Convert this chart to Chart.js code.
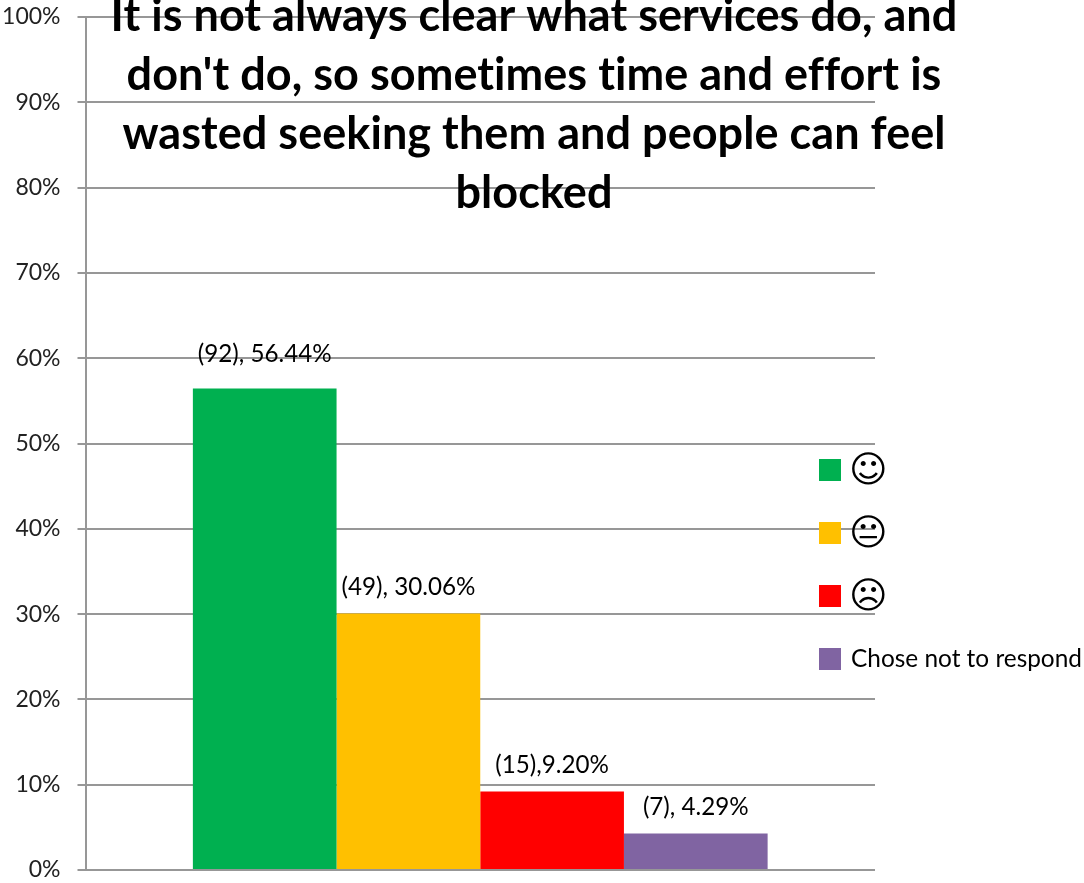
<!DOCTYPE html>
<html>
<head>
<meta charset="utf-8">
<style>
html, body { margin: 0; padding: 0; background: #fff; overflow: hidden; }
</style>
<script src="https://cdn.jsdelivr.net/npm/chart.js@4/dist/chart.umd.min.js"></script>
</head>
<body>
<canvas id="chart" width="1084" height="883"></canvas>
<script>
const categories = ['Responses'];
const seriesNames = ['☺', '😐', '☹', 'Chose not to respond'];
const seriesValues = [56.44, 30.06, 9.20, 4.29];
const seriesColors = ['#00B050', '#FFC000', '#FF0000', '#8064A2'];
const valueLabels = ['(92), 56.44%', '(49), 30.06%', '(15),9.20%', '(7), 4.29%'];
const titleLines = [
    'It is not always clear what services do, and',
    "don't do, so sometimes time and effort is",
    'wasted seeking them and people can feel',
    'blocked'
];

const textFont = 'Lato, "Open Sans", sans-serif';

// title sits on top of the plot, so it can't go through the layout
const chartTitle = {
    id: 'chartTitle',
    afterDraw(chart) {
        const { ctx } = chart;
        ctx.save();
        ctx.font = 'bold 45px ' + textFont;
        ctx.letterSpacing = '0.05px'; // stops the ti ligature
        ctx.fillStyle = '#000';
        ctx.textAlign = 'center';
        ctx.textBaseline = 'alphabetic';
        titleLines.forEach((line, i) => ctx.fillText(line, 534, 31 + i * 59));
        ctx.restore();
    }
};

const barLabels = {
    id: 'barLabels',
    afterDatasetsDraw(chart) {
        const { ctx } = chart;
        ctx.save();
        ctx.font = '24.2px ' + textFont;
        ctx.fillStyle = '#000';
        ctx.textAlign = 'center';
        ctx.textBaseline = 'middle';
        valueLabels.forEach((label, i) => {
            const bar = chart.getDatasetMeta(i).data[0];
            ctx.fillText(label, bar.x, bar.y - (i === 0 ? 34 : 26));
        });
        ctx.restore();
    }
};

// legend overlaps the plot area on the right, drawn by hand
const sideLegend = {
    id: 'sideLegend',
    afterDraw(chart) {
        const { ctx } = chart;
        ctx.save();
        ctx.textBaseline = 'middle';
        ctx.textAlign = 'left';
        seriesNames.forEach((name, i) => {
            const y = 470 + i * 63;
            ctx.fillStyle = seriesColors[i];
            ctx.fillRect(819, y - 11, 22, 22);
            ctx.fillStyle = '#000';
            if (i < 3) {
                ctx.font = '37px "DejaVu Sans"';
                ctx.fillText(name, 849, y + 2);
            } else {
                ctx.font = '24.4px ' + textFont;
                ctx.fillText(name, 851, y);
            }
        });
        ctx.restore();
    }
};

const chart = new Chart(document.getElementById('chart'), {
    type: 'bar',
    data: {
        labels: categories,
        datasets: seriesNames.map((name, i) => ({
            label: name,
            data: [seriesValues[i]],
            backgroundColor: seriesColors[i],
            barPercentage: 1,
            categoryPercentage: 0.728
        }))
    },
    options: {
        responsive: false,
        animation: false,
        layout: { padding: { left: 0, right: 209, top: 17, bottom: 13 } },
        scales: {
            x: { display: false },
            y: {
                min: 0,
                max: 100,
                afterFit(scale) {
                    scale.width = 85.5;
                    scale.paddingTop = 0;
                    scale.paddingBottom = 0;
                },
                border: { color: '#979797', width: 2 },
                grid: { color: '#979797', lineWidth: 2, tickLength: 8 },
                ticks: {
                    stepSize: 10,
                    padding: 17,
                    color: '#222',
                    font: { family: textFont, size: 23 },
                    callback: (v) => v + '%'
                }
            }
        },
        plugins: {
            legend: { display: false },
            tooltip: { enabled: false }
        }
    },
    plugins: [barLabels, chartTitle, sideLegend]
});
</script>
</body>
</html>
